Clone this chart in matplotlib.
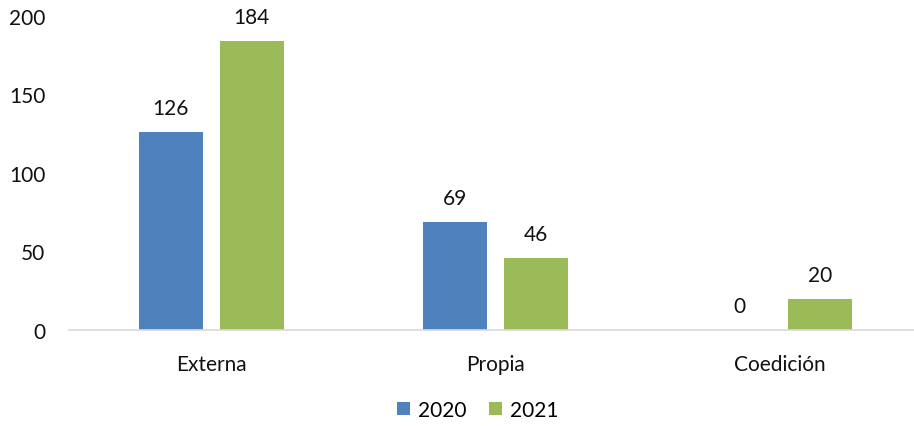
import matplotlib.pyplot as plt
import numpy as np

categories = ["Externa", "Propia", "Coedición"]
values_2020 = [126, 69, 0]
values_2021 = [184, 46, 20]
series_names = ["2020", "2021"]

plt.rcParams['font.family'] = ['Lato', 'DejaVu Sans']

fig = plt.figure(figsize=(9.14, 4.27), dpi=100)
# axis runs a little past the right edge of the figure, as in the original
ax = fig.add_axes([69 / 914, 96 / 427, 853 / 914, 314 / 427])

x = np.arange(len(categories))
w = 0.225
off = 0.1424
b1 = ax.bar(x - off, values_2020, w, color='#4f81bd', label=series_names[0])
b2 = ax.bar(x + off, values_2021, w, color='#9bbb59', label=series_names[1])

for bars in (b1, b2):
    for rect in bars:
        h = rect.get_height()
        ax.annotate(f"{h:g}", (rect.get_x() + rect.get_width() / 2, h),
                    xytext=(0, 10), textcoords='offset points',
                    ha='center', va='bottom', fontsize=15, color='#111111')

ax.set_xlim(-0.5, 2.5)
ax.set_ylim(0, 200)
ax.set_yticks([0, 50, 100, 150, 200])
ax.set_xticks(x)
ax.set_xticklabels(categories)
ax.tick_params(axis='both', length=0, labelsize=15, colors='#111111')
ax.tick_params(axis='y', pad=17)
ax.tick_params(axis='x', pad=17)
for s in ['top', 'right', 'left']:
    ax.spines[s].set_visible(False)
ax.spines['bottom'].set_color('#d9d9d9')
ax.spines['bottom'].set_linewidth(1.2)

fig.legend(loc='center', bbox_to_anchor=(478 / 914, 1 - 411 / 427), ncol=2,
           frameon=False, fontsize=15, handlelength=0.6, handleheight=0.6,
           handletextpad=0.4, columnspacing=1.1)

fig.savefig("out.png", dpi=100)
